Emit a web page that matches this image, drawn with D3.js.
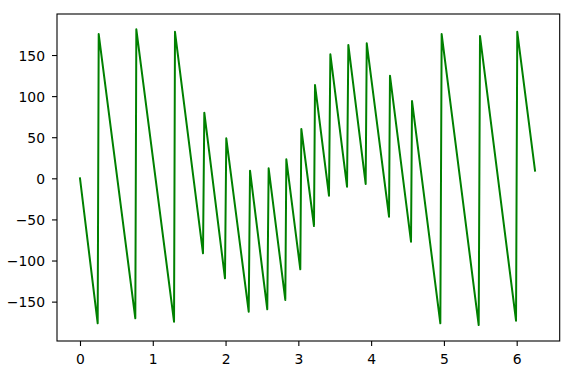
<!DOCTYPE html>
<html>
<head>
<meta charset="utf-8">
<script src="https://cdn.jsdelivr.net/npm/d3@7"></script>
<style>
  html, body { margin: 0; padding: 0; background: #fff; }
  svg { display: block; }
  text { font-family: "DejaVu Sans", sans-serif; font-size: 13.9px; fill: #000; }
</style>
</head>
<body>
<svg id="chart" width="568" height="374"></svg>
<script>
// Vertices of the sawtooth line (x, degrees)
const xValues = [0, 0.243, 0.257, 0.760, 0.774, 1.292, 1.305, 1.690, 1.708, 1.992,
  2.010, 2.318, 2.336, 2.573, 2.592, 2.821, 2.835, 3.027, 3.041, 3.215,
  3.229, 3.421, 3.440, 3.669, 3.687, 3.925, 3.940, 4.246, 4.259, 4.548,
  4.562, 4.951, 4.969, 5.478, 5.496, 5.991, 6.008, 6.252];
const yValues = [0, -176.4, 175.5, -170.3, 181.3, -174.4, 178.3, -91.2, 79.8, -121.7,
  48.7, -162.3, 9.3, -159.4, 12.2, -148, 23.1, -110.7, 60, -58,
  113.5, -21.2, 150.8, -10.2, 162.2, -6.9, 164.2, -46.7, 124.8, -77.1,
  94, -176.4, 175.5, -178.5, 173.1, -173.2, 178.3, 9.3];
const xTicks = [0, 1, 2, 3, 4, 5, 6];
const yTicks = [-150, -100, -50, 0, 50, 100, 150];
const xLimits = [-0.316, 6.591];
const yLimits = [-197.9, 199.9];

const svg = d3.select("#chart");
const mLeft = 57, mRight = 559.7, mTop = 14, mBottom = 341;

const x = d3.scaleLinear().domain(xLimits).range([mLeft, mRight]);
const y = d3.scaleLinear().domain(yLimits).range([mBottom, mTop]);

const data = xValues.map((v, i) => [v, yValues[i]]);

svg.append("defs").append("clipPath").attr("id", "clip")
  .append("rect").attr("x", mLeft).attr("y", mTop)
  .attr("width", mRight - mLeft).attr("height", mBottom - mTop);

svg.append("path")
  .datum(data)
  .attr("clip-path", "url(#clip)")
  .attr("fill", "none")
  .attr("stroke", "#008000")
  .attr("stroke-width", 2)
  .attr("stroke-linejoin", "round")
  .attr("stroke-linecap", "square")
  .attr("d", d3.line().x(d => x(d[0])).y(d => y(d[1])));

const fmt = v => (v < 0 ? "\u2212" + Math.abs(v) : String(v));

const xAxis = d3.axisBottom(x).tickValues(xTicks).tickSize(5).tickPadding(6)
  .tickFormat(fmt);
const gx = svg.append("g").attr("transform", `translate(0,${mBottom})`).call(xAxis);
gx.select(".domain").remove();
gx.selectAll(".tick line").attr("stroke", "#000").attr("stroke-width", 1.1);
gx.selectAll(".tick text").attr("dy", null).attr("y", 23)
  .style("font-family", "DejaVu Sans").style("font-size", "13.9px").attr("fill", "#000");

const yAxis = d3.axisLeft(y).tickValues(yTicks).tickSize(5).tickPadding(7)
  .tickFormat(fmt);
const gy = svg.append("g").attr("transform", `translate(${mLeft},0)`).call(yAxis);
gy.select(".domain").remove();
gy.selectAll(".tick line").attr("stroke", "#000").attr("stroke-width", 1.1);
gy.selectAll(".tick text").attr("x", -12).attr("dy", "0.36em")
  .style("font-family", "DejaVu Sans").style("font-size", "13.9px").attr("fill", "#000");

svg.append("rect")
  .attr("x", mLeft).attr("y", mTop)
  .attr("width", mRight - mLeft).attr("height", mBottom - mTop)
  .attr("fill", "none").attr("stroke", "#000").attr("stroke-width", 1.1);
</script>
</body>
</html>
